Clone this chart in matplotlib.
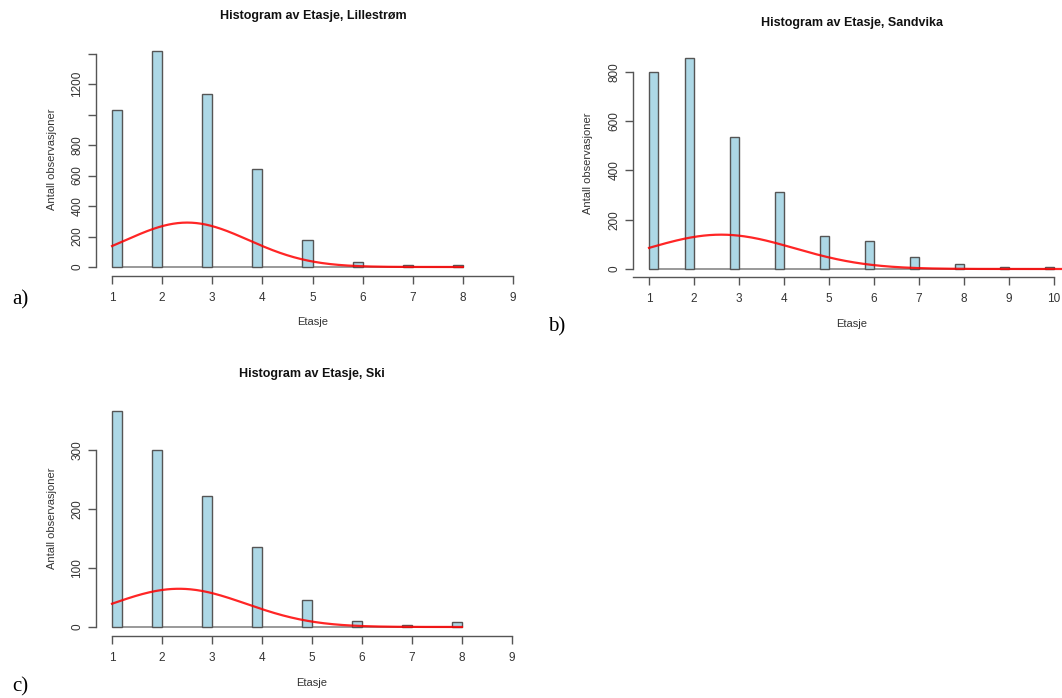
import numpy as np
import matplotlib
matplotlib.use("Agg")
from matplotlib import pyplot as plt

W, H = 1062, 698

# etasje (floor) values and counts
etasje_lil = [1, 2, 3, 4, 5, 6, 7, 8]
antall_lil = [1031, 1415, 1136, 646, 180, 33, 15, 15]

etasje_san = [1, 2, 3, 4, 5, 6, 7, 8, 9, 10]
antall_san = [800, 855, 534, 312, 135, 112, 50, 20, 9, 8]

etasje_ski = [1, 2, 3, 4, 5, 6, 7, 8]
antall_ski = [367, 300, 222, 136, 45, 10, 3, 9]

yticks_lil = [0, 200, 400, 600, 800, 1000, 1200, 1400]
ylabels_lil = ["0", "200", "400", "600", "800", "", "1200", ""]
yticks_san = [0, 200, 400, 600, 800]
yticks_ski = [0, 100, 200, 300]

titles = ["Histogram av Etasje, Lillestrøm", "Histogram av Etasje, Sandvika",
          "Histogram av Etasje, Ski"]

plt.rcParams['font.family'] = ['Liberation Sans', 'DejaVu Sans']
fig = plt.figure(figsize=(W / 100, H / 100), dpi=100)
fig.patch.set_facecolor('white')

AX = '#555555'
TXT = '#333333'


def fx(x):
    return x / W


def fy(y):
    return 1 - y / H


def make_ax(left, right, top, bottom, xlim, ylim):
    ax = fig.add_axes([fx(left), fy(bottom), fx(right) - fx(left), fy(top) - fy(bottom)])
    ax.set_xlim(*xlim)
    ax.set_ylim(*ylim)
    ax.patch.set_alpha(0)
    for s in ['top', 'right']:
        ax.spines[s].set_visible(False)
    for s in ['left', 'bottom']:
        ax.spines[s].set_color(AX)
        ax.spines[s].set_linewidth(1.0)
    ax.tick_params(colors=AX, labelcolor=TXT, labelsize=8.5, length=6, width=1.0)
    ax.tick_params(axis='x', pad=5.5)
    ax.tick_params(axis='y', pad=3)
    return ax


def draw_hist(ax, etasje, antall, xcurve_end, xaxis, yticks, ylabels):
    etasje = np.array(etasje, dtype=float)
    antall = np.array(antall, dtype=float)
    left = np.where(etasje == 1, 1.0, etasje - 0.2)
    ax.hlines(0, 1, etasje.max(), color='#888888', lw=1.2, zorder=1)
    ax.bar(left, antall, width=0.2, align='edge', color='#ADD8E6',
           edgecolor='#555555', linewidth=1.0, zorder=2)
    n = antall.sum()
    mu = (etasje * antall).sum() / n
    sd = np.sqrt((antall * (etasje - mu) ** 2).sum() / (n - 1))
    xs = np.linspace(1, xcurve_end, 300)
    ys = n * 0.2 * np.exp(-(xs - mu) ** 2 / (2 * sd ** 2)) / (sd * np.sqrt(2 * np.pi))
    ax.plot(xs, ys, color='red', lw=1.6, alpha=0.85, zorder=3)
    ax.set_xticks(xaxis)
    ax.set_xticklabels([str(v) for v in xaxis])
    ax.spines['bottom'].set_bounds(1, xaxis[-1])
    ax.set_yticks(yticks)
    ax.set_yticklabels(ylabels, rotation=90, va='center')
    ax.spines['left'].set_bounds(yticks[0], yticks[-1])


# a) Lillestrom
ax1 = make_ax(96, 523, 46, 276, (0.68, 9.2), (-59, 1450))
draw_hist(ax1, etasje_lil, antall_lil, 8, list(range(1, 10)), yticks_lil, ylabels_lil)

# b) Sandvika
ax2 = make_ax(633, 1062, 52, 277, (0.644, 10.18), (-32.5, 880))
draw_hist(ax2, etasje_san, antall_san, 10.6, list(range(1, 11)), yticks_san,
          [str(v) for v in yticks_san])
ax2.spines['bottom'].set_bounds(0.644, 10)

# c) Ski
ax3 = make_ax(96, 522, 403, 636, (0.68, 9.2), (-15.3, 380))
draw_hist(ax3, etasje_ski, antall_ski, 8, list(range(1, 10)), yticks_ski,
          [str(v) for v in yticks_ski])

# titles and axis labels
for (cx, ty, lx, ly, xy), t in zip([(313, 16, 52, 159, 322), (852, 23, 588, 163, 324),
                                    (312, 374, 52, 518, 683)], titles):
    fig.text(fx(cx), fy(ty), t, ha='center', va='center', fontsize=9,
             fontweight='bold', color='#111111')
    fig.text(fx(lx), fy(ly), "Antall observasjoner", ha='center', va='center',
             fontsize=8, rotation=90, color=TXT)
    fig.text(fx(cx), fy(xy), "Etasje", ha='center', va='center', fontsize=8, color=TXT)

for lab, x, y in [("a)", 12, 300), ("b)", 548, 327), ("c)", 12, 687)]:
    fig.text(fx(x), fy(y), lab, ha='left', va='center', fontsize=15,
             family='Liberation Serif', color='black')

fig.savefig('out.png', dpi=100, facecolor='white')
